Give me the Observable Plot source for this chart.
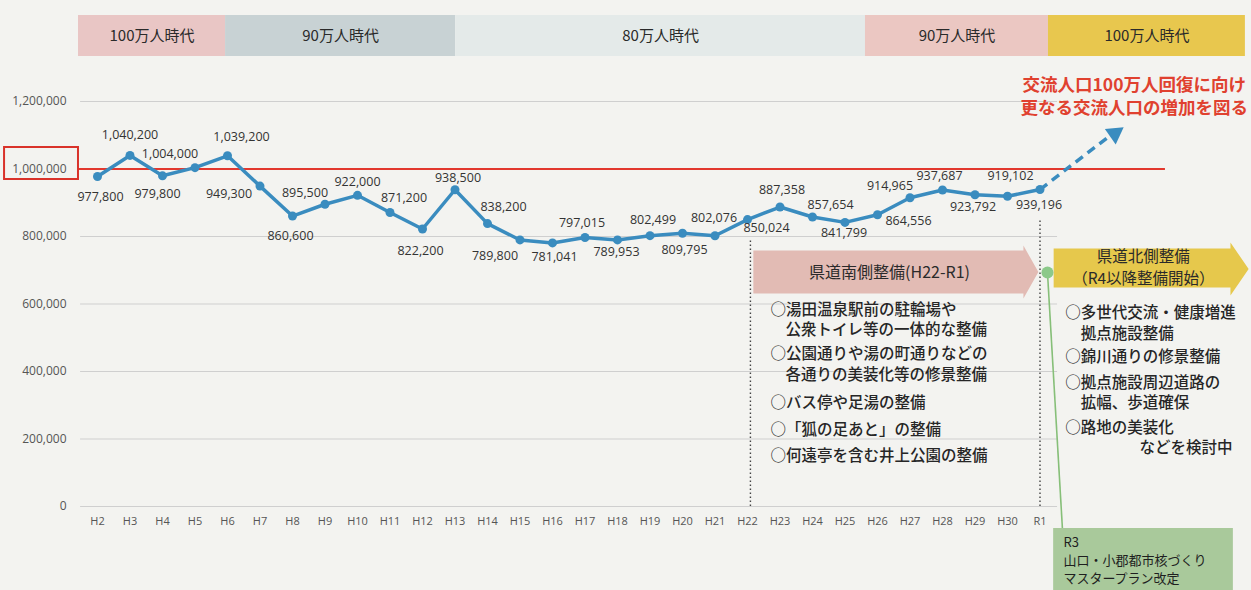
<!DOCTYPE html>
<html><head><meta charset="utf-8">
<script src="https://cdn.jsdelivr.net/npm/d3@7"></script>
<script src="https://cdn.jsdelivr.net/npm/@observablehq/plot@0.6"></script>
<style>
body{margin:0;background:#f3f3f0;}
#chart svg{display:block;}
</style></head><body><div id="chart"></div>
<script>
// ---- data ----
const years = ["H2","H3","H4","H5","H6","H7","H8","H9","H10","H11","H12","H13","H14","H15","H16","H17","H18","H19","H20","H21","H22","H23","H24","H25","H26","H27","H28","H29","H30","R1"];
const visitors = [977800,1040200,979800,1004000,1039200,949300,860600,895500,922000,871200,822200,938500,838200,789800,781041,797015,789953,802499,809795,802076,850024,887358,857654,841799,864556,914965,937687,923792,919102,939196];
const yTicks = [0,200000,400000,600000,800000,1000000,1200000];
const target = 1000000;
const eras = ["100万人時代","90万人時代","80万人時代","90万人時代","100万人時代"];
const southLines = ["○湯田温泉駅前の駐輪場や","公衆トイレ等の一体的な整備","○公園通りや湯の町通りなどの","各通りの美装化等の修景整備","○バス停や足湯の整備","○「狐の足あと」の整備","○何遠亭を含む井上公園の整備"];
const northLines = ["○多世代交流・健康増進","拠点施設整備","○錦川通りの修景整備","○拠点施設周辺道路の","拡幅、歩道確保","○路地の美装化"];
const northTail = "などを検討中";
const goalLines = ["交流人口100万人回復に向け","更なる交流人口の増加を図る"];
const southTitle = "県道南側整備(H22-R1)";
const northTitle = ["県道北側整備","（R4以降整備開始）"];
const r3Lines = ["R3","山口・小郡都市核づくり","マスタープラン改定"];

// ---- layout (annotation placement, in scale units) ----
const eraFrom = [-0.585, 3.94, 11.02, 23.63, 29.26];
const eraTo   = [3.94, 11.02, 23.63, 29.26, 35.32];
const eraColors = ["#e9c6c5","#c8d2d4","#e4eae9","#ebc7c2","#e8c74e"];
const labelDx = [3,0,-5,-25,14,-31,-2,-20,0,14,-2,3,16,-25,2,-3,-1,3,2,-1,19,2,18,-1,31,-20,-3,-2,3,-1];
const labelDy = [21,-20,18,-14,-19,8,20,-11,-13,-14,22,-12,-17,16,14,-15,12,-16,17,-18,8,-17,-12,11,6,-12,-14,12,-20,15];
const southX = [20.71,21.17,20.71,21.17,20.71,20.71,20.71];
const southY = [582200,521500,450400,388100,305200,225200,148100];
const northX = [29.78,30.25,29.78,29.78,30.25,29.78];
const northY = [573400,511100,441500,365900,306600,232600];
const northTailPos = [34.92, 173400];
const goalY = [1247400,1179300];
const r3Y = [-106700,-160000,-213300];

const rows = years.map((yr, i) => ({i, year: yr, v: visitors[i]}));
const blue = "#3a8cbf";
const jp = "'Noto Sans CJK JP', 'Noto Sans', sans-serif";
const itemStyle = {textAnchor: "start", fontSize: 15.5, fontWeight: 500, fontFamily: jp, fill: "#262626"};

const marks = [
  // era bands
  Plot.rect(eras.map((e, k) => ({e, x1: eraFrom[k], x2: eraTo[k], c: eraColors[k]})),
    {x1: "x1", x2: "x2", y1: 1333300, y2: 1454800, fill: "c"}),
  Plot.text(eras.map((e, k) => ({e, x: (eraFrom[k] + eraTo[k]) / 2})),
    {x: "x", y: 1392600, text: "e", fontSize: 15, fontFamily: jp, fill: "#2a2a2a"}),
  // grid
  Plot.ruleY(yTicks, {x1: -0.52, x2: 29.54, stroke: "#cfcfcf", strokeWidth: 1}),
  // target line + box around label
  Plot.ruleY([target], {x1: -0.585, x2: 32.86, stroke: "#e2382e", strokeWidth: 2}),
  Plot.rect([target], {x1: -2.86, x2: -0.585, y1: 968900, y2: 1063700, fill: "none", stroke: "#d9322a", strokeWidth: 2}),
  // dotted separators
  Plot.ruleX([20.09], {y1: 0, y2: 790000, stroke: "#444", strokeWidth: 1.4, strokeDasharray: "1.5,2.5"}),
  Plot.ruleX([29.0], {y1: 0, y2: 851900, stroke: "#444", strokeWidth: 1.4, strokeDasharray: "1.5,2.5"}),
  // axes
  Plot.axisY({ticks: yTicks, tickFormat: d3.format(","), tickSize: 0, tickPadding: 4, fontSize: 12, fill: "#555", fontFamily: "'Open Sans', sans-serif"}),
  Plot.axisX({ticks: d3.range(years.length), tickFormat: i => years[i], tickSize: 0, tickPadding: 11, fontSize: 11, fill: "#555", fontFamily: "'Open Sans', sans-serif"}),
  // south arrow
  Plot.line([{x:20.18,y:758500},{x:28.49,y:758500},{x:28.49,y:773300},{x:28.95,y:694800},{x:28.49,y:616300},{x:28.49,y:631100},{x:20.18,y:631100}],
    {x: "x", y: "y", fill: "#e2bbb4", stroke: "none"}),
  Plot.text([southTitle], {x: 24.37, y: 693300, text: d => d, fontSize: 16, fontFamily: jp, fill: "#2a2a2a"}),
  // north arrow
  Plot.line([{x:29.42,y:764400},{x:34.86,y:764400},{x:34.86,y:782200},{x:35.42,y:703700},{x:34.86,y:625200},{x:34.86,y:648900},{x:29.42,y:648900}],
    {x: "x", y: "y", fill: "#e6c84c", stroke: "none"}),
  Plot.text(northTitle, {x: 32.18, y: (d, k) => [737800, 672600][k], text: d => d, fontSize: 15.5, fontFamily: jp, fill: "#2a2a2a"}),
  // R3 marker
  Plot.link([0], {x1: 29.23, y1: 693300, x2: 29.69, y2: -65200, stroke: "#86bf78", strokeWidth: 1.6}),
  Plot.dot([0], {x: 29.23, y: 693300, r: 6, fill: "#8cc98a", stroke: "none"}),
  Plot.rect([0], {x1: 29.42, x2: 34.95, y1: -65200, y2: -260000, fill: "#a9c99b"}),
  Plot.text(r3Lines, {x: 29.72, y: (d, k) => r3Y[k], text: d => d, textAnchor: "start", fontSize: 13, fontFamily: jp, fill: "#1f1f1f"}),
  // items
  Plot.text(southLines, {x: (d, k) => southX[k], y: (d, k) => southY[k], text: d => d, ...itemStyle}),
  Plot.text(northLines, {x: (d, k) => northX[k], y: (d, k) => northY[k], text: d => d, ...itemStyle}),
  Plot.text([northTail], {x: northTailPos[0], y: northTailPos[1], text: d => d, ...itemStyle, textAnchor: "end"}),
  // future dashed arrow
  Plot.link([0], {x1: 29.0, y1: visitors[visitors.length - 1], x2: 31.17, y2: 1100000, stroke: blue, strokeWidth: 3.5, strokeDasharray: "9,6"}),
  Plot.dot([0], {x: 31.3, y: 1105000, symbol: "triangle", r: 7, rotate: 55, fill: blue, stroke: "none"}),
  Plot.text(goalLines, {x: 31.9, y: (d, k) => goalY[k], text: d => d, fontSize: 17.5, fontWeight: 600, fontFamily: jp, fill: "#e0412f"}),
  // data line
  Plot.line(rows, {x: "i", y: "v", stroke: blue, strokeWidth: 3.5}),
  Plot.dot(rows, {x: "i", y: "v", r: 4.5, fill: blue, stroke: "none"}),
  ...rows.map((d, k) => Plot.text([d], {x: "i", y: "v", text: r => d3.format(",")(r.v), dx: labelDx[k], dy: labelDy[k], fontSize: 12.5, fill: "#333", fontFamily: "'Open Sans', sans-serif"}))
];

const chart = Plot.plot({
  width: 1251, height: 590,
  marginLeft: 70, marginRight: 0, marginTop: 0, marginBottom: 84,
  style: {background: "#f3f3f0", overflow: "visible"},
  x: {type: "linear", domain: [0, 29], range: [97, 1039.5]},
  y: {domain: [0, 1200000], range: [506, 101]},
  color: {type: "identity"},
  marks
});
document.getElementById("chart").append(chart);
</script></body></html>
